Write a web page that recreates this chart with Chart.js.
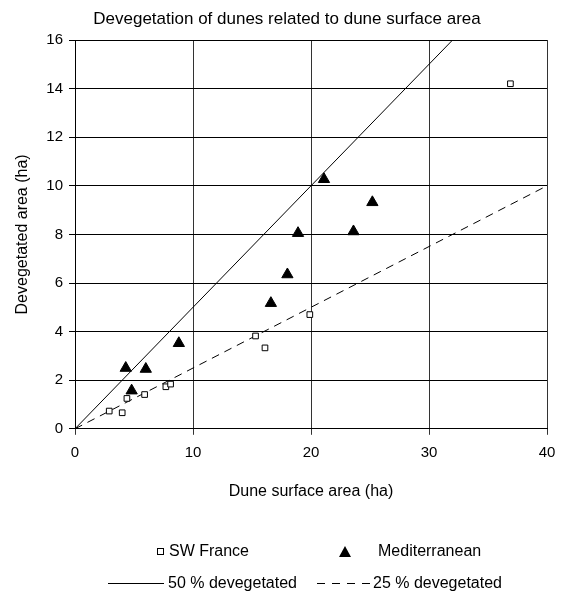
<!DOCTYPE html>
<html>
<head>
<meta charset="utf-8">
<script src="https://cdn.jsdelivr.net/npm/chart.js@4.4.1/dist/chart.umd.min.js"></script>
<style>
  html, body { margin: 0; padding: 0; background: #fff; }
  #wrap { position: relative; width: 561px; height: 596px; font-family: "Liberation Sans", Arial, sans-serif; color: #000; }
  #wrap canvas { position: absolute; left: 0; top: 0; }
  .ttl { position: absolute; left: 0; width: 574px; top: 9px; text-align: center; font-size: 17px; line-height: 20px; white-space: nowrap; }
  .lg { position: absolute; font-size: 16px; line-height: 18px; white-space: nowrap; }
  .sq { position: absolute; width: 5px; height: 5px; border: 1px solid #000; background: #fff; }
  .tri { position: absolute; width: 0; height: 0; border-left: 6px solid transparent; border-right: 6px solid transparent; border-bottom: 11px solid #000; }
  .ln { position: absolute; height: 1px; background: #000; }
  .ln.dash { background: repeating-linear-gradient(to right, #000 0, #000 8px, transparent 8px, transparent 15px); }
</style>
</head>
<body>
<div id="wrap">
  <canvas id="duneChart" width="561" height="596"></canvas>
  <div class="ttl">Devegetation of dunes related to dune surface area</div>
  <div class="sq" style="left:157px; top:548px;"></div>
  <div class="lg" style="left:169px; top:542px;">SW France</div>
  <div class="tri" style="left:339px; top:546px;"></div>
  <div class="lg" style="left:378px; top:542px;">Mediterranean</div>
  <div class="ln" style="left:108px; top:583px; width:56px;"></div>
  <div class="lg" style="left:168px; top:574px;">50 % devegetated</div>
  <div class="ln dash" style="left:317px; top:583px; width:55px;"></div>
  <div class="lg" style="left:373px; top:574px;">25 % devegetated</div>
</div>
<script>
// SW France dunes: surface area (ha) vs devegetated area (ha)
const franceX = [2.9, 4.0, 4.4, 5.9, 7.7, 8.1, 15.3, 16.1, 19.9, 36.9];
const franceY = [0.73, 0.66, 1.25, 1.41, 1.73, 1.84, 3.82, 3.33, 4.70, 14.2];

// Mediterranean dunes
const medX = [4.3, 4.8, 6.0, 8.8, 16.6, 18.0, 18.9, 21.1, 23.6, 25.2];
const medY = [2.5, 1.57, 2.46, 3.52, 5.17, 6.35, 8.05, 10.27, 8.12, 9.32];

// reference lines (endpoints)
const line50X = [0, 40];
const line50Y = [0, 20];
const line25X = [0, 40];
const line25Y = [0, 10];

const xTicks = [0, 10, 20, 30, 40];
const yTicks = [0, 2, 4, 6, 8, 10, 12, 14, 16];

const toPoints = (xs, ys) => xs.map((x, i) => ({ x: x, y: ys[i] }));

Chart.defaults.font.family = '"Liberation Sans", Arial, sans-serif';
Chart.defaults.color = "#000";

const ctx = document.getElementById("duneChart");
new Chart(ctx, {
    type: "scatter",
    data: {
        datasets: [
            {
                label: "SW France",
                data: toPoints(franceX, franceY),
                pointStyle: "rect",
                pointRadius: 4,
                borderColor: "#000",
                backgroundColor: "#fff",
                borderWidth: 1,
            },
            {
                label: "Mediterranean",
                data: toPoints(medX, medY),
                pointStyle: "triangle",
                pointRadius: 6.5,
                borderColor: "#000",
                backgroundColor: "#000",
                borderWidth: 1,
            },
            {
                label: "50 % devegetated",
                type: "line",
                data: toPoints(line50X, line50Y),
                borderColor: "#000",
                borderWidth: 1,
                pointRadius: 0,
                fill: false,
            },
            {
                label: "25 % devegetated",
                type: "line",
                data: toPoints(line25X, line25Y),
                borderColor: "#000",
                borderWidth: 1,
                borderDash: [8, 6],
                pointRadius: 0,
                fill: false,
            },
        ],
    },
    options: {
        responsive: false,
        animation: false,
        layout: { padding: { left: 9, right: 14, top: 40, bottom: 91 } },
        plugins: {
            legend: { display: false },
            tooltip: { enabled: false },
            title: { display: false },
        },
        scales: {
            x: {
                type: "linear",
                min: 0,
                max: 40,
                afterBuildTicks: (s) => { s.ticks = xTicks.map((v) => ({ value: v })); },
                afterFit: (s) => { s.paddingLeft = 0; s.paddingRight = 0; },
                ticks: { font: { size: 15 }, padding: 9 },
                grid: { color: "#333", lineWidth: 1, tickLength: 6 },
                border: { color: "#000" },
                title: { display: true, text: "Dune surface area (ha)", font: { size: 16 }, padding: { top: 11 } },
            },
            y: {
                type: "linear",
                min: 0,
                max: 16,
                afterBuildTicks: (s) => { s.ticks = yTicks.map((v) => ({ value: v })); },
                afterFit: (s) => { s.width = 66; s.paddingTop = 0; s.paddingBottom = 0; },
                ticks: { font: { size: 15 }, padding: 6 },
                grid: { color: "#000", lineWidth: 1, tickLength: 6 },
                border: { color: "#000" },
                title: { display: true, text: "Devegetated area (ha)", font: { size: 16 }, padding: { top: 4, bottom: 4 } },
            },
        },
    },
});
</script>
</body>
</html>
